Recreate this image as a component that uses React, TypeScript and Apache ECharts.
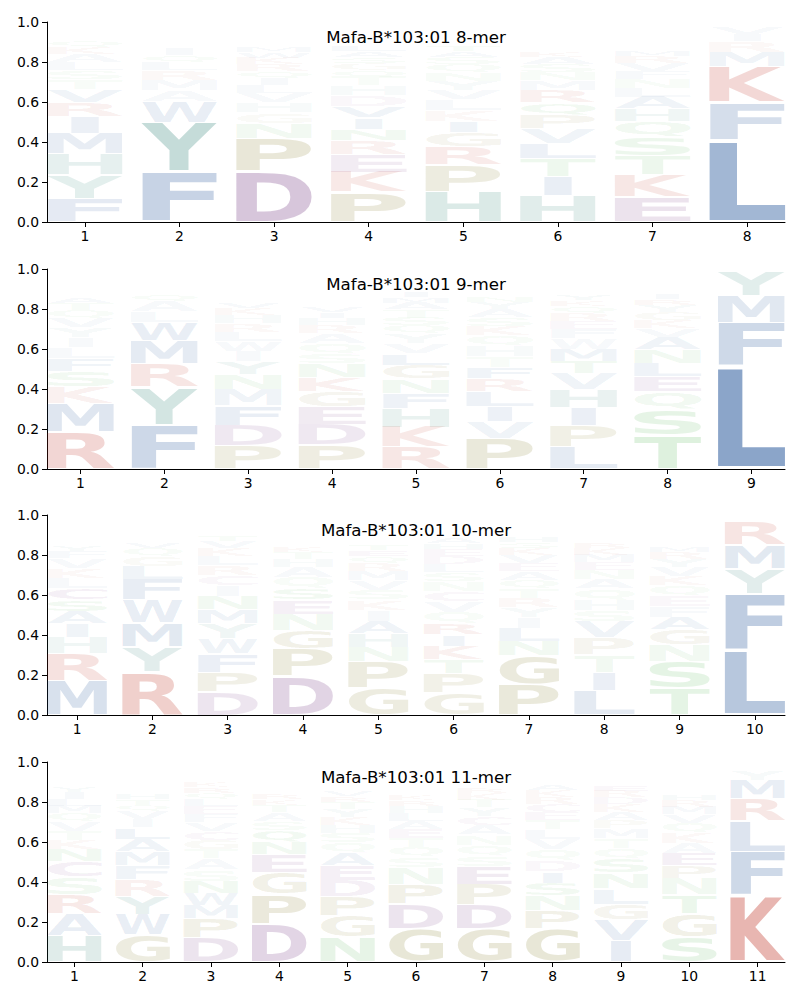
import React, { useEffect, useRef } from "react";
import * as echarts from "echarts";

const TITLES = [
  "Mafa-B*103:01 8-mer",
  "Mafa-B*103:01 9-mer",
  "Mafa-B*103:01 10-mer",
  "Mafa-B*103:01 11-mer",
];
const Y_TICKS = [0, 0.2, 0.4, 0.6, 0.8, 1.0];
const ALPHABET = "ACDEFGHIKLMNPQRSTVWY".split("");

type Stack = [string, number][];

const MER8: Stack[] = [
  [["F", 0.118], ["Y", 0.117], ["H", 0.106], ["M", 0.102], ["I", 0.085], ["R", 0.07], ["V", 0.065], ["T", 0.05], ["S", 0.045], ["L", 0.04], ["A", 0.04], ["K", 0.035], ["Q", 0.03], ["N", 0.025], ["G", 0.02], ["E", 0.015], ["W", 0.01], ["D", 0.008], ["C", 0.006], ["P", 0.005]],
  [["F", 0.25], ["Y", 0.248], ["W", 0.105], ["A", 0.055], ["M", 0.052], ["R", 0.048], ["L", 0.038], ["Q", 0.036], ["I", 0.034], ["S", 0.025], ["T", 0.02], ["H", 0.017], ["V", 0.015], ["K", 0.012], ["N", 0.01], ["E", 0.008], ["G", 0.006], ["D", 0.005], ["P", 0.004], ["C", 0.003]],
  [["D", 0.255], ["P", 0.165], ["N", 0.075], ["G", 0.052], ["H", 0.05], ["V", 0.045], ["L", 0.04], ["I", 0.037], ["Q", 0.035], ["R", 0.034], ["K", 0.032], ["W", 0.03], ["M", 0.027], ["S", 0.022], ["T", 0.02], ["A", 0.018], ["Y", 0.015], ["F", 0.012], ["E", 0.01], ["C", 0.008]],
  [["P", 0.15], ["K", 0.1], ["E", 0.088], ["R", 0.07], ["N", 0.058], ["I", 0.057], ["V", 0.057], ["D", 0.056], ["H", 0.045], ["T", 0.045], ["Q", 0.035], ["G", 0.032], ["S", 0.03], ["A", 0.03], ["L", 0.028], ["M", 0.025], ["F", 0.02], ["Y", 0.018], ["W", 0.015], ["C", 0.01]],
  [["H", 0.152], ["P", 0.135], ["R", 0.09], ["G", 0.07], ["I", 0.058], ["K", 0.056], ["L", 0.052], ["V", 0.048], ["Y", 0.045], ["N", 0.043], ["Q", 0.04], ["S", 0.035], ["A", 0.03], ["T", 0.03], ["M", 0.025], ["E", 0.02], ["F", 0.015], ["D", 0.012], ["W", 0.008], ["C", 0.005]],
  [["H", 0.13], ["I", 0.097], ["T", 0.088], ["L", 0.077], ["V", 0.075], ["P", 0.068], ["Q", 0.062], ["R", 0.06], ["M", 0.05], ["N", 0.04], ["S", 0.04], ["A", 0.035], ["K", 0.03], ["Y", 0.025], ["G", 0.022], ["F", 0.02], ["E", 0.018], ["D", 0.012], ["W", 0.01], ["C", 0.008]],
  [["E", 0.126], ["K", 0.11], ["T", 0.094], ["S", 0.093], ["Q", 0.08], ["H", 0.062], ["A", 0.06], ["L", 0.045], ["N", 0.045], ["F", 0.04], ["V", 0.04], ["R", 0.035], ["M", 0.03], ["Y", 0.025], ["G", 0.02], ["D", 0.015], ["W", 0.012], ["P", 0.01], ["C", 0.008], ["I", 0.006]],
  [["L", 0.411], ["F", 0.188], ["K", 0.177], ["M", 0.073], ["R", 0.055], ["I", 0.035], ["V", 0.033], ["Y", 0.01], ["W", 0.005], ["A", 0.004], ["H", 0.003]],
];

const MER9: Stack[] = [
  [["R", 0.185], ["M", 0.143], ["K", 0.085], ["S", 0.075], ["F", 0.065], ["L", 0.055], ["I", 0.05], ["Y", 0.05], ["V", 0.045], ["Q", 0.04], ["T", 0.035], ["A", 0.03], ["H", 0.025], ["N", 0.02], ["E", 0.018], ["G", 0.015], ["D", 0.012], ["W", 0.01], ["P", 0.008], ["C", 0.005]],
  [["F", 0.222], ["Y", 0.19], ["R", 0.115], ["M", 0.115], ["W", 0.09], ["L", 0.055], ["A", 0.052], ["Q", 0.035], ["S", 0.02], ["T", 0.015], ["V", 0.01], ["E", 0.01], ["K", 0.008], ["D", 0.008], ["H", 0.006], ["P", 0.006], ["N", 0.005], ["G", 0.005], ["C", 0.004]],
  [["P", 0.118], ["D", 0.1], ["F", 0.097], ["M", 0.082], ["N", 0.078], ["Y", 0.063], ["I", 0.052], ["W", 0.05], ["L", 0.045], ["R", 0.042], ["H", 0.04], ["K", 0.035], ["V", 0.03], ["Q", 0.025], ["S", 0.022], ["T", 0.02], ["A", 0.018], ["E", 0.015], ["G", 0.012], ["C", 0.008]],
  [["P", 0.12], ["D", 0.1], ["E", 0.09], ["G", 0.077], ["K", 0.072], ["N", 0.068], ["S", 0.05], ["Q", 0.05], ["A", 0.05], ["R", 0.04], ["H", 0.035], ["I", 0.03], ["V", 0.03], ["T", 0.025], ["L", 0.025], ["Y", 0.02], ["M", 0.018], ["F", 0.015], ["W", 0.012], ["C", 0.008]],
  [["R", 0.11], ["K", 0.1], ["H", 0.095], ["F", 0.073], ["N", 0.072], ["G", 0.07], ["L", 0.058], ["V", 0.05], ["Y", 0.048], ["Q", 0.04], ["S", 0.04], ["T", 0.04], ["A", 0.035], ["M", 0.03], ["I", 0.03], ["E", 0.02], ["D", 0.015], ["W", 0.012], ["P", 0.008], ["C", 0.005]],
  [["P", 0.152], ["V", 0.085], ["I", 0.077], ["L", 0.075], ["R", 0.063], ["F", 0.057], ["T", 0.055], ["H", 0.053], ["Q", 0.05], ["K", 0.048], ["S", 0.045], ["A", 0.04], ["Y", 0.035], ["N", 0.03], ["W", 0.025], ["D", 0.02], ["M", 0.02], ["G", 0.015], ["C", 0.01], ["E", 0.01]],
  [["L", 0.113], ["P", 0.105], ["I", 0.09], ["H", 0.09], ["V", 0.08], ["T", 0.062], ["M", 0.06], ["W", 0.055], ["F", 0.045], ["E", 0.04], ["R", 0.038], ["Q", 0.035], ["K", 0.03], ["Y", 0.03], ["S", 0.025], ["A", 0.02], ["N", 0.018], ["G", 0.015], ["D", 0.01], ["C", 0.005]],
  [["T", 0.168], ["S", 0.13], ["Q", 0.088], ["E", 0.075], ["L", 0.07], ["N", 0.066], ["A", 0.063], ["V", 0.042], ["K", 0.04], ["G", 0.04], ["Y", 0.035], ["R", 0.03], ["I", 0.028], ["H", 0.025], ["M", 0.02], ["D", 0.018], ["F", 0.015], ["P", 0.012], ["W", 0.01], ["C", 0.006]],
  [["L", 0.512], ["F", 0.219], ["M", 0.135], ["Y", 0.122], ["V", 0.004], ["I", 0.003], ["W", 0.002]],
];

const MER10: Stack[] = [
  [["M", 0.172], ["R", 0.135], ["H", 0.08], ["I", 0.07], ["A", 0.062], ["S", 0.058], ["C", 0.057], ["L", 0.052], ["K", 0.05], ["V", 0.048], ["F", 0.035], ["Y", 0.03], ["Q", 0.025], ["T", 0.02], ["N", 0.018], ["G", 0.015], ["E", 0.012], ["D", 0.01], ["W", 0.008], ["P", 0.005]],
  [["R", 0.215], ["Y", 0.125], ["M", 0.12], ["W", 0.118], ["F", 0.1], ["L", 0.066], ["G", 0.05], ["Q", 0.04], ["V", 0.03], ["K", 0.025], ["A", 0.02], ["S", 0.015], ["H", 0.012], ["T", 0.01], ["N", 0.008], ["E", 0.006], ["I", 0.005], ["D", 0.005], ["P", 0.004], ["C", 0.003]],
  [["D", 0.115], ["P", 0.1], ["F", 0.092], ["W", 0.077], ["Y", 0.073], ["M", 0.072], ["N", 0.066], ["I", 0.055], ["C", 0.05], ["R", 0.048], ["L", 0.045], ["K", 0.04], ["V", 0.035], ["T", 0.03], ["Q", 0.025], ["S", 0.02], ["A", 0.018], ["H", 0.015], ["G", 0.012], ["E", 0.008]],
  [["D", 0.192], ["P", 0.14], ["G", 0.09], ["N", 0.082], ["E", 0.072], ["S", 0.058], ["Q", 0.055], ["A", 0.052], ["H", 0.04], ["T", 0.035], ["K", 0.03], ["R", 0.025], ["W", 0.02], ["V", 0.018], ["L", 0.015], ["Y", 0.012], ["I", 0.01], ["F", 0.008], ["M", 0.006], ["C", 0.004]],
  [["G", 0.133], ["P", 0.132], ["N", 0.075], ["H", 0.066], ["A", 0.065], ["I", 0.055], ["K", 0.05], ["S", 0.05], ["V", 0.048], ["M", 0.045], ["R", 0.04], ["Q", 0.035], ["E", 0.03], ["T", 0.03], ["D", 0.025], ["Y", 0.02], ["L", 0.018], ["F", 0.015], ["W", 0.01], ["C", 0.006]],
  [["G", 0.11], ["P", 0.098], ["T", 0.07], ["K", 0.068], ["I", 0.058], ["R", 0.057], ["Q", 0.055], ["V", 0.052], ["C", 0.05], ["N", 0.05], ["S", 0.045], ["L", 0.042], ["D", 0.04], ["E", 0.035], ["H", 0.03], ["A", 0.028], ["M", 0.025], ["Y", 0.02], ["F", 0.015], ["W", 0.01]],
  [["P", 0.152], ["G", 0.145], ["N", 0.072], ["L", 0.066], ["I", 0.052], ["Y", 0.05], ["R", 0.047], ["T", 0.046], ["Q", 0.045], ["A", 0.044], ["E", 0.04], ["V", 0.038], ["K", 0.035], ["S", 0.03], ["H", 0.028], ["D", 0.025], ["M", 0.02], ["F", 0.015], ["W", 0.01], ["C", 0.006]],
  [["L", 0.123], ["I", 0.092], ["T", 0.087], ["P", 0.085], ["V", 0.08], ["S", 0.056], ["H", 0.055], ["Q", 0.053], ["A", 0.047], ["N", 0.045], ["E", 0.04], ["M", 0.038], ["K", 0.035], ["R", 0.03], ["F", 0.025], ["Y", 0.02], ["W", 0.015], ["G", 0.012], ["D", 0.01], ["C", 0.006]],
  [["T", 0.135], ["S", 0.134], ["N", 0.085], ["G", 0.075], ["A", 0.06], ["F", 0.055], ["E", 0.052], ["Q", 0.05], ["K", 0.046], ["V", 0.045], ["Y", 0.04], ["R", 0.035], ["M", 0.03], ["D", 0.025], ["H", 0.022], ["I", 0.02], ["P", 0.015], ["W", 0.01], ["C", 0.006]],
  [["L", 0.322], ["F", 0.285], ["Y", 0.125], ["M", 0.12], ["R", 0.118], ["K", 0.008], ["I", 0.006], ["V", 0.004], ["W", 0.003]],
];

const MER11: Stack[] = [
  [["H", 0.132], ["A", 0.11], ["R", 0.096], ["S", 0.088], ["C", 0.076], ["N", 0.06], ["K", 0.048], ["T", 0.046], ["V", 0.045], ["Q", 0.042], ["M", 0.038], ["L", 0.035], ["I", 0.032], ["Y", 0.028], ["F", 0.025], ["G", 0.02], ["E", 0.018], ["D", 0.015], ["W", 0.01], ["P", 0.006]],
  [["G", 0.135], ["W", 0.1], ["Y", 0.092], ["R", 0.085], ["F", 0.072], ["M", 0.068], ["A", 0.062], ["L", 0.058], ["I", 0.042], ["V", 0.04], ["Q", 0.032], ["T", 0.03], ["H", 0.028], ["E", 0.025], ["K", 0.022], ["S", 0.02], ["N", 0.018], ["D", 0.015], ["P", 0.01], ["C", 0.006]],
  [["D", 0.122], ["P", 0.095], ["M", 0.066], ["W", 0.062], ["N", 0.06], ["S", 0.056], ["A", 0.055], ["T", 0.048], ["G", 0.046], ["C", 0.045], ["V", 0.044], ["F", 0.04], ["E", 0.038], ["L", 0.035], ["Q", 0.032], ["R", 0.03], ["K", 0.028], ["Y", 0.025], ["H", 0.02], ["I", 0.015]],
  [["D", 0.19], ["P", 0.15], ["G", 0.11], ["E", 0.088], ["N", 0.063], ["Q", 0.058], ["S", 0.045], ["A", 0.044], ["T", 0.035], ["K", 0.03], ["R", 0.028], ["V", 0.025], ["H", 0.022], ["L", 0.02], ["Y", 0.018], ["I", 0.015], ["M", 0.012], ["F", 0.01], ["W", 0.008], ["C", 0.005]],
  [["N", 0.127], ["G", 0.105], ["P", 0.095], ["D", 0.08], ["E", 0.078], ["A", 0.062], ["Q", 0.05], ["S", 0.046], ["H", 0.042], ["K", 0.04], ["Y", 0.038], ["T", 0.035], ["R", 0.03], ["V", 0.028], ["M", 0.025], ["L", 0.022], ["F", 0.018], ["I", 0.015], ["W", 0.01], ["C", 0.006]],
  [["G", 0.168], ["D", 0.122], ["P", 0.1], ["N", 0.083], ["S", 0.052], ["Q", 0.048], ["T", 0.046], ["E", 0.045], ["A", 0.042], ["L", 0.038], ["H", 0.035], ["R", 0.03], ["K", 0.028], ["V", 0.025], ["Y", 0.022], ["I", 0.02], ["M", 0.018], ["F", 0.015], ["W", 0.01], ["C", 0.006]],
  [["G", 0.165], ["D", 0.122], ["P", 0.103], ["E", 0.09], ["S", 0.053], ["Q", 0.052], ["N", 0.051], ["A", 0.048], ["C", 0.045], ["Y", 0.044], ["T", 0.038], ["K", 0.032], ["R", 0.028], ["H", 0.025], ["L", 0.02], ["V", 0.018], ["M", 0.015], ["I", 0.012], ["F", 0.01], ["W", 0.006]],
  [["G", 0.168], ["P", 0.09], ["N", 0.075], ["S", 0.062], ["I", 0.058], ["D", 0.056], ["Q", 0.054], ["V", 0.052], ["L", 0.048], ["T", 0.045], ["E", 0.042], ["C", 0.04], ["R", 0.035], ["K", 0.032], ["A", 0.03], ["H", 0.025], ["Y", 0.02], ["M", 0.018], ["F", 0.015], ["W", 0.01]],
  [["I", 0.106], ["V", 0.104], ["G", 0.08], ["L", 0.078], ["N", 0.077], ["S", 0.07], ["Q", 0.052], ["T", 0.05], ["M", 0.049], ["P", 0.042], ["A", 0.041], ["K", 0.04], ["D", 0.035], ["R", 0.032], ["E", 0.028], ["H", 0.022], ["F", 0.02], ["Y", 0.018], ["W", 0.01], ["C", 0.006]],
  [["S", 0.127], ["G", 0.118], ["T", 0.092], ["N", 0.083], ["P", 0.061], ["E", 0.06], ["A", 0.055], ["K", 0.052], ["Q", 0.046], ["V", 0.044], ["M", 0.038], ["R", 0.032], ["H", 0.028], ["D", 0.025], ["L", 0.02], ["Y", 0.018], ["I", 0.015], ["F", 0.012], ["W", 0.008], ["C", 0.005]],
  [["K", 0.332], ["F", 0.22], ["L", 0.153], ["R", 0.111], ["M", 0.093], ["Y", 0.046], ["V", 0.012], ["I", 0.008], ["W", 0.006], ["H", 0.005], ["A", 0.004]],
];

const PANELS = [MER8, MER9, MER10, MER11];

const GROUP_RGB: Record<string, [number, number, number]> = {
  hydrophobic: [30, 80, 150],
  aromatic: [20, 115, 100],
  acidic: [100, 30, 115],
  basic: [185, 35, 20],
  special: [120, 110, 20],
  polar: [60, 170, 60],
};
const LETTER_GROUP: Record<string, string> = {
  A: "hydrophobic", V: "hydrophobic", L: "hydrophobic", I: "hydrophobic",
  M: "hydrophobic", F: "hydrophobic", W: "hydrophobic",
  H: "aromatic", Y: "aromatic",
  D: "acidic", E: "acidic", C: "acidic",
  K: "basic", R: "basic",
  G: "special", P: "special",
  N: "polar", Q: "polar", S: "polar", T: "polar",
};

const FONT_PX = 100;
const GLYPH_FONT = `bold ${FONT_PX}px "DejaVu Sans"`;
const UI_FAMILY = '"DejaVu Sans", sans-serif';
const GLYPH_W = 0.8;
const VPAD = 0.06;
const GRID_LEFT = 47;
const GRID_W = 738;
const GRID_TOPS = [22, 269, 515, 762];
const GRID_H = 200;
// empirical offset of the SVG "central" baseline (fraction of the font size)
const CENTRAL_SHIFT = 0.086;

type Metric = { l: number; r: number; a: number; d: number };

function measureGlyphs(): Record<string, Metric> {
  const out: Record<string, Metric> = {};
  const c = document.createElement("canvas");
  const ctx = c.getContext("2d");
  for (const ch of ALPHABET) {
    let m: Metric = { l: -8, r: 62, a: 39, d: 34 };
    if (ctx) {
      ctx.font = GLYPH_FONT;
      ctx.textBaseline = "alphabetic";
      ctx.textAlign = "left";
      const t = ctx.measureText(ch);
      if (t.actualBoundingBoxRight !== undefined) {
        const fontAscent =
          (t as any).fontBoundingBoxAscent !== undefined ? (t as any).fontBoundingBoxAscent : 0.928 * FONT_PX;
        const central = fontAscent - FONT_PX / 2 - CENTRAL_SHIFT * FONT_PX;
        m = {
          l: t.actualBoundingBoxLeft,
          r: t.actualBoundingBoxRight,
          a: t.actualBoundingBoxAscent - central,
          d: t.actualBoundingBoxDescent + central,
        };
      }
    }
    out[ch] = m;
  }
  return out;
}

export default function App() {
  const ref = useRef<HTMLDivElement>(null);

  useEffect(() => {
    const el = ref.current;
    if (!el) return;
    const metrics = measureGlyphs();
    const eW = metrics["E"].l + metrics["E"].r;
    const chart = echarts.init(el, null, { renderer: "svg" });

    const grid: any[] = [];
    const xAxis: any[] = [];
    const yAxis: any[] = [];
    const series: any[] = [];
    const graphic: any[] = [];

    PANELS.forEach((stacks, i) => {
      const n = stacks.length;
      const positions = stacks.map((_, k) => k + 1);
      grid.push({ left: GRID_LEFT, top: GRID_TOPS[i], width: GRID_W, height: GRID_H });
      xAxis.push({
        type: "value",
        gridIndex: i,
        min: 0.6,
        max: n + 0.4,
        splitLine: { show: false },
        axisLine: { show: true, onZero: false, lineStyle: { color: "#000", width: 1 } },
        axisTick: { show: true, length: 5, lineStyle: { color: "#000", width: 1 }, customValues: positions },
        axisLabel: {
          customValues: positions,
          color: "#000",
          fontSize: 13.9,
          fontFamily: UI_FAMILY,
          margin: 7,
          formatter: (v: number) => String(Math.round(v)),
        },
      });
      yAxis.push({
        type: "value",
        gridIndex: i,
        min: 0,
        max: 1,
        interval: 0.2,
        splitLine: { show: false },
        axisLine: { show: true, onZero: false, lineStyle: { color: "#000", width: 1 } },
        axisTick: { show: true, length: 5, lineStyle: { color: "#000", width: 1 } },
        axisLabel: {
          color: "#000",
          fontSize: 13.9,
          fontFamily: UI_FAMILY,
          margin: 8,
          formatter: (v: number) => {
            const t = Y_TICKS.find((y) => Math.abs(y - v) < 1e-6);
            return (t !== undefined ? t : v).toFixed(1);
          },
        },
      });

      const items: number[][] = [];
      stacks.forEach((stack, k) => {
        const sorted = stack.slice().sort((a, b) => b[1] - a[1]);
        let floor = 0;
        sorted.forEach(([ch, h]) => {
          items.push([k + 1, floor, floor + h, ALPHABET.indexOf(ch), h]);
          floor += h;
        });
      });

      series.push({
        type: "custom",
        xAxisIndex: i,
        yAxisIndex: i,
        silent: true,
        clip: false,
        data: items,
        encode: { x: 0, y: [1, 2] },
        renderItem: (_params: any, api: any) => {
          const x = api.value(0);
          const y0 = api.value(1);
          const y1 = api.value(2);
          const ch = ALPHABET[api.value(3)];
          const h = api.value(4);
          const m = metrics[ch];
          const pad = (VPAD * h) / 2;
          const bl = api.coord([x - GLYPH_W / 2, y0 + pad]);
          const tr = api.coord([x + GLYPH_W / 2, y1 - pad]);
          const boxW = tr[0] - bl[0];
          const boxH = bl[1] - tr[1];
          if (boxH <= 0.05) return null;
          const inkW = m.l + m.r;
          const inkH = m.a + m.d;
          const sx = Math.min(boxW / inkW, boxW / eW);
          const gw = sx * inkW;
          const left = bl[0] + (boxW - gw) / 2;
          const sy = boxH / inkH;
          const rgb = GROUP_RGB[LETTER_GROUP[ch]];
          const alpha = Math.max(0, Math.min(1, h));
          return {
            type: "text",
            x: left + sx * m.l,
            y: tr[1] + sy * m.a,
            scaleX: sx,
            scaleY: sy,
            silent: true,
            style: {
              text: ch,
              font: GLYPH_FONT,
              fill: `rgba(${rgb[0]},${rgb[1]},${rgb[2]},${alpha.toFixed(4)})`,
              align: "left",
              verticalAlign: "middle",
              textAlign: "left",
              textVerticalAlign: "middle",
            },
          };
        },
      });

      graphic.push({
        type: "text",
        x: GRID_LEFT + GRID_W / 2,
        y: GRID_TOPS[i] + 15.5,
        silent: true,
        z: 100,
        style: {
          text: TITLES[i],
          font: `16.67px ${UI_FAMILY}`,
          fill: "#000",
          align: "center",
          verticalAlign: "middle",
          textAlign: "center",
          textVerticalAlign: "middle",
        },
      });
    });

    chart.setOption({
      animation: false,
      backgroundColor: "#fff",
      grid,
      xAxis,
      yAxis,
      series,
      graphic,
    });

    return () => {
      chart.dispose();
    };
  }, []);

  return (
    <div
      ref={ref}
      style={{ position: "absolute", left: 0, top: 0, width: 800, height: 1000, background: "#fff" }}
    />
  );
}
